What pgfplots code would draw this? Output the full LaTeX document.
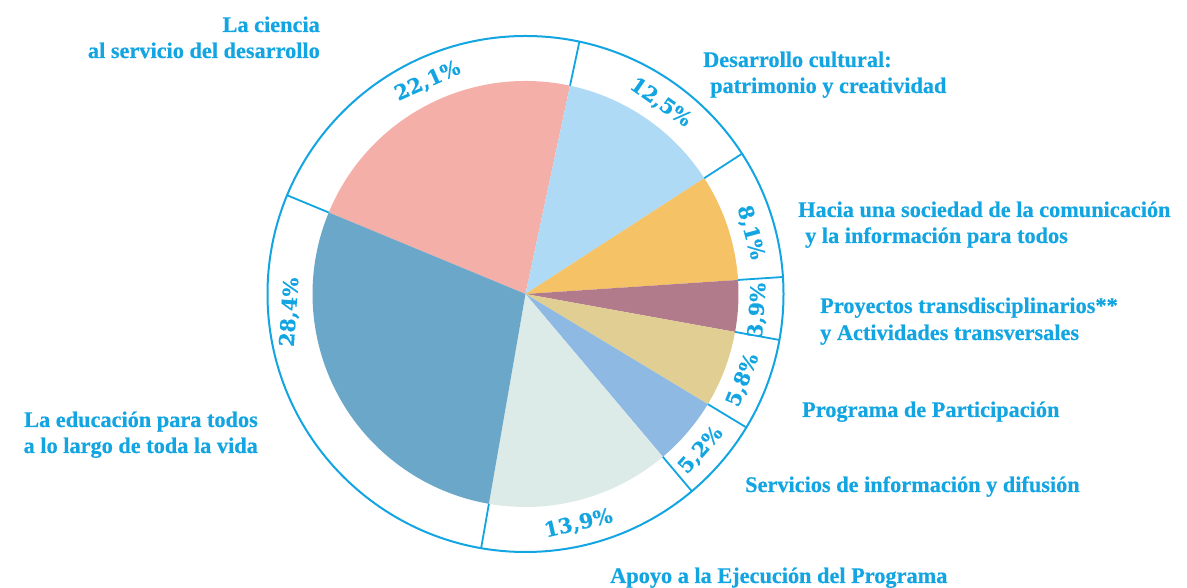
\documentclass[border=0pt]{standalone}
\usepackage{pgfplots}
\pgfplotsset{compat=1.18}
\usepackage{fontspec}
\setmainfont{Liberation Serif}[BoldFeatures={FakeBold=0.5}]
\newfontfamily\pctfont{DejaVu Serif}[BoldFeatures={FakeBold=0.4}]
\definecolor{txt}{HTML}{12A5E2}
\definecolor{cpink}{HTML}{F4AFA8}
\definecolor{clblue}{HTML}{AFDAF5}
\definecolor{cyell}{HTML}{F5C266}
\definecolor{cpurp}{HTML}{B27B8B}
\definecolor{ctan}{HTML}{E0CE93}
\definecolor{cblue}{HTML}{8EB9E3}
\definecolor{cmint}{HTML}{DCEBE7}
\definecolor{cbig}{HTML}{6BA7C9}
\newcommand{\lab}{\fontsize{22.3}{26}\selectfont\bfseries\color{txt}}
\newcommand{\pct}{\pctfont\fontsize{20.5}{24}\selectfont\bfseries\color{txt}}
\begin{document}
\begin{tikzpicture}
\useasboundingbox (0,0) rectangle (1187pt,588pt);
\begin{axis}[at={(0,0)}, anchor=south west, scale only axis,
  width=1187pt, height=588pt, xmin=0, xmax=1187, ymin=0, ymax=588,
  hide axis, clip=false]
% pie slices: start angle, percentage (clockwise)
\fill[cpink]  (axis cs:525.5,294) -- ++(157.5:213pt)  arc[start angle=157.5,  delta angle=-22.1*3.6, radius=213pt] -- cycle;
\fill[clblue] (axis cs:525.5,294) -- ++(77.94:213pt)  arc[start angle=77.94,  delta angle=-12.5*3.6, radius=213pt] -- cycle;
\fill[cyell]  (axis cs:525.5,294) -- ++(32.94:213pt)  arc[start angle=32.94,  delta angle=-8.1*3.6,  radius=213pt] -- cycle;
\fill[cpurp]  (axis cs:525.5,294) -- ++(3.78:213pt)   arc[start angle=3.78,   delta angle=-3.9*3.6,  radius=213pt] -- cycle;
\fill[ctan]   (axis cs:525.5,294) -- ++(-10.26:213pt) arc[start angle=-10.26, delta angle=-5.8*3.6,  radius=213pt] -- cycle;
\fill[cblue]  (axis cs:525.5,294) -- ++(-31.14:213pt) arc[start angle=-31.14, delta angle=-5.2*3.6,  radius=213pt] -- cycle;
\fill[cmint]  (axis cs:525.5,294) -- ++(-49.86:213pt) arc[start angle=-49.86, delta angle=-13.9*3.6, radius=213pt] -- cycle;
\fill[cbig]   (axis cs:525.5,294) -- ++(-99.9:213pt)  arc[start angle=-99.9,  end angle=-202.5,     radius=213pt] -- cycle;
% ring
\draw[txt, line width=2pt] (axis cs:525.5,294) circle[radius=258pt];
\foreach \a in {157.5,77.94,32.94,3.78,-10.26,-31.14,-49.86,-99.9}{
  \edef\tmp{\noexpand\draw[txt, line width=1.8pt] (axis cs:525.5,294) ++(\a:213pt) -- ++(\a:45pt);}\tmp
}
% percentages
\node[rotate=24]  at ([shift={(114.7:234pt)}]axis cs:525.5,294) {\pct 22,1\%};
\node[rotate=-35] at ([shift={(54.8:234pt)}]axis cs:525.5,294) {\pct 12,5\%};
\node[rotate=-75] at ([shift={(15.3:233pt)}]axis cs:525.5,294) {\pct 8,1\%};
\node[rotate=86]  at ([shift={(-4:233pt)}]axis cs:525.5,294) {\pct 3,9\%};
\node[rotate=68]  at ([shift={(-21.6:234pt)}]axis cs:525.5,294) {\pct 5,8\%};
\node[rotate=48]  at ([shift={(-41.7:235pt)}]axis cs:525.5,294) {\pct 5,2\%};
\node[rotate=13]  at ([shift={(-77:236pt)}]axis cs:525.5,294) {\pct 13,9\%};
\node[rotate=86]  at ([shift={(184.4:236pt)}]axis cs:525.5,294) {\pct 28,4\%};
% category labels
\node[anchor=base east, inner sep=0] at (axis cs:320,556) {\lab La ciencia};
\node[anchor=base east, inner sep=0] at (axis cs:320,530) {\lab al servicio del desarrollo};
\node[anchor=base west, inner sep=0] at (axis cs:703,521) {\lab Desarrollo cultural:};
\node[anchor=base west, inner sep=0] at (axis cs:710,495) {\lab patrimonio y creatividad};
\node[anchor=base west, inner sep=0] at (axis cs:798,371) {\lab Hacia una sociedad de la comunicación};
\node[anchor=base west, inner sep=0] at (axis cs:805,345) {\lab y la información para todos};
\node[anchor=base west, inner sep=0] at (axis cs:820,275) {\lab Proyectos transdisciplinarios**};
\node[anchor=base west, inner sep=0] at (axis cs:820,248) {\lab y Actividades transversales};
\node[anchor=base west, inner sep=0] at (axis cs:802,171) {\lab Programa de Participación};
\node[anchor=base west, inner sep=0] at (axis cs:745,96) {\lab Servicios de información y difusión};
\node[anchor=base west, inner sep=0] at (axis cs:610,5) {\lab Apoyo a la Ejecución del Programa};
\node[anchor=base east, inner sep=0] at (axis cs:258,161) {\lab La educación para todos};
\node[anchor=base east, inner sep=0] at (axis cs:258,135) {\lab a lo largo de toda la vida};
\end{axis}
\end{tikzpicture}
\end{document}
